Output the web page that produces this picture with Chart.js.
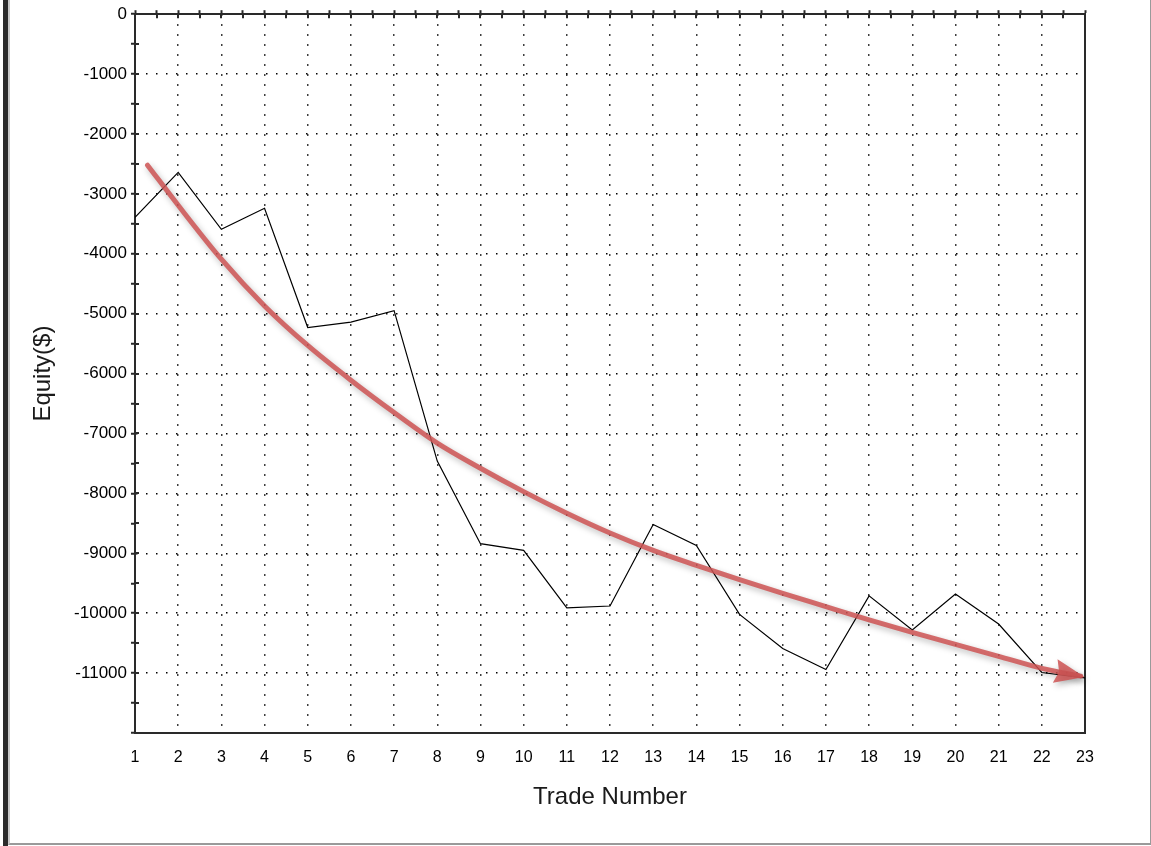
<!DOCTYPE html>
<html>
<head>
<meta charset="utf-8">
<title>Equity curve</title>
<script src="https://cdn.jsdelivr.net/npm/chart.js@4.4.1/dist/chart.umd.min.js"></script>
<style>
  html, body { margin: 0; padding: 0; background: #fff; overflow: hidden; }
  body { width: 1151px; height: 846px; position: relative; }
  .edge { position: absolute; left: 3px; top: 0; width: 5px; height: 846px; background: #2b2b2b; }
  .pane {
    position: absolute; left: 8px; top: 0; width: 1143px; height: 845px; box-sizing: border-box;
    border-left: 2px solid #c8c8c8; border-bottom: 2px solid #9a9a9a; border-right: 1px solid #9a9a9a;
  }
  #wrap { position: absolute; left: 0; top: 0; width: 1151px; height: 846px; }
</style>
</head>
<body>
<div class="edge"></div>
<div class="pane"></div>
<div id="wrap"><canvas id="equityChart"></canvas></div>
<script>
// Trade numbers and equity after each trade
const trades = [1, 2, 3, 4, 5, 6, 7, 8, 9, 10, 11, 12, 13, 14, 15, 16, 17, 18, 19, 20, 21, 22, 23];
const equity = [-3390, -2640, -3590, -3240, -5230, -5140, -4950, -7460, -8840, -8950, -9910, -9880,
  -8520, -8870, -10020, -10590, -10940, -9710, -10280, -9680, -10180, -10990, -11080];

// Hand-drawn trend arrow
const trendX = [1.29, 2, 3, 4, 5, 6, 7, 8, 9, 10, 11, 12, 13, 14, 15, 16, 17, 18, 19, 20, 21, 22, 22.9];
const trendY = [-2520, -3190, -4090, -4870, -5530, -6110, -6650, -7160, -7580, -7970, -8330, -8660,
  -8950, -9200, -9440, -9670, -9890, -10110, -10320, -10520, -10720, -10920, -11050];

const yTicksMin = -12000;
const yTicksMax = 0;

const FONT = "'Liberation Sans', Arial, sans-serif";
const AXIS = '#2a2a2a';
const ARROW = 'rgba(206, 84, 84, 0.85)';

// shadow under the trend arrow
const arrowShadow = {
  id: 'arrowShadow',
  beforeDatasetDraw(chart, args) {
    if (args.index !== 0) return;
    const ctx = chart.ctx;
    ctx.save();
    ctx.shadowColor = 'rgba(0,0,0,0.3)';
    ctx.shadowBlur = 6;
    ctx.shadowOffsetX = 2;
    ctx.shadowOffsetY = 3;
  },
  afterDatasetDraw(chart, args) {
    if (args.index !== 0) return;
    chart.ctx.restore();
  }
};

// arrow head at the end of the trend line
const arrowHead = {
  id: 'arrowHead',
  afterDatasetsDraw(chart) {
    const pts = chart.getDatasetMeta(0).data;
    const tip = pts[pts.length - 1];
    const prev = pts[pts.length - 2];
    const fx = tip.cp1x !== undefined ? tip.cp1x : prev.x;
    const fy = tip.cp1y !== undefined ? tip.cp1y : prev.y;
    const ang = Math.atan2(tip.y - fy, tip.x - fx);
    const ctx = chart.ctx;
    const len = 30, half = 12;
    const tx = tip.x + 4 * Math.cos(ang), ty = tip.y + 4 * Math.sin(ang);
    const bx = tx - len * Math.cos(ang), by = ty - len * Math.sin(ang);
    ctx.save();
    ctx.shadowColor = 'rgba(0,0,0,0.3)';
    ctx.shadowBlur = 6;
    ctx.shadowOffsetX = 2;
    ctx.shadowOffsetY = 3;
    ctx.fillStyle = ARROW;
    ctx.beginPath();
    ctx.moveTo(tx, ty);
    ctx.lineTo(bx + half * Math.sin(ang), by - half * Math.cos(ang));
    ctx.lineTo(bx + 4 * Math.cos(ang), by + 4 * Math.sin(ang));
    ctx.lineTo(bx - half * Math.sin(ang), by + half * Math.cos(ang));
    ctx.closePath();
    ctx.fill();
    ctx.restore();
  }
};

// tick marks that cross the left and top axis lines
const crossTicks = {
  id: 'crossTicks',
  afterDraw(chart) {
    const ctx = chart.ctx;
    const area = chart.chartArea;
    ctx.save();
    ctx.strokeStyle = AXIS;
    ctx.lineWidth = 2;
    ctx.beginPath();
    chart.scales.y.ticks.forEach(t => {
      const py = Math.round(chart.scales.y.getPixelForValue(t.value));
      ctx.moveTo(area.left, py);
      ctx.lineTo(area.left + 4, py);
    });
    chart.scales.x2.ticks.forEach(t => {
      const px = Math.round(chart.scales.x2.getPixelForValue(t.value));
      ctx.moveTo(px, area.top);
      ctx.lineTo(px, area.top + 4);
    });
    ctx.stroke();
    ctx.restore();
  }
};

const dotted = [1.5, 8.5];

new Chart(document.getElementById('equityChart'), {
  type: 'line',
  data: {
    datasets: [
      {
        label: 'Trend',
        data: trendX.map((x, i) => ({ x: x, y: trendY[i] })),
        borderColor: ARROW,
        borderWidth: 5,
        borderCapStyle: 'round',
        cubicInterpolationMode: 'monotone',
        pointRadius: 0,
        fill: false
      },
      {
        label: 'Equity',
        data: trades.map((t, i) => ({ x: t, y: equity[i] })),
        borderColor: '#000',
        borderWidth: 1.2,
        tension: 0,
        pointRadius: 0,
        fill: false
      }
    ]
  },
  options: {
    responsive: true,
    maintainAspectRatio: false,
    animation: false,
    events: [],
    layout: { padding: 0 },
    plugins: {
      legend: { display: false },
      tooltip: { enabled: false }
    },
    scales: {
      x: {
        type: 'linear',
        position: 'bottom',
        min: 1,
        max: 23,
        afterFit: s => { s.height = 113; },
        ticks: {
          stepSize: 1,
          autoSkip: false,
          maxRotation: 0,
          padding: 15,
          color: '#000',
          font: { family: FONT, size: 16 }
        },
        grid: { color: '#000', lineWidth: 1.5, drawTicks: false },
        border: { color: AXIS, width: 2, dash: dotted },
        title: {
          display: true,
          text: 'Trade Number',
          color: '#1a1a1a',
          font: { family: FONT, size: 24 },
          padding: { top: 0, bottom: 34 }
        }
      },
      x2: {
        type: 'linear',
        position: 'top',
        min: 1,
        max: 23,
        afterFit: s => { s.height = 13; },
        ticks: { stepSize: 0.5, display: false },
        grid: { drawOnChartArea: false, drawTicks: true, tickLength: 4, tickColor: AXIS, tickWidth: 2 },
        border: { color: AXIS, width: 2 }
      },
      y: {
        type: 'linear',
        position: 'left',
        min: yTicksMin,
        max: yTicksMax,
        afterFit: s => { s.width = 135; },
        ticks: {
          stepSize: 500,
          autoSkip: false,
          padding: 4,
          color: '#000',
          font: { family: FONT, size: 17 },
          callback: v => (v % 1000 === 0 && v !== yTicksMin ? String(v) : '')
        },
        grid: {
          color: c => (c.tick && c.tick.value % 1000 === 0 ? '#000' : 'rgba(0,0,0,0)'),
          lineWidth: 1.5,
          drawTicks: true,
          tickLength: 4,
          tickColor: AXIS,
          tickWidth: 2
        },
        border: { color: AXIS, width: 2, dash: dotted },
        title: {
          display: true,
          text: 'Equity($)',
          color: '#1a1a1a',
          font: { family: FONT, size: 24 },
          padding: { top: 29, bottom: 0 }
        }
      },
      y2: {
        type: 'linear',
        position: 'right',
        min: yTicksMin,
        max: yTicksMax,
        afterFit: s => { s.width = 66; },
        ticks: { display: false },
        grid: { drawOnChartArea: false, drawTicks: false },
        border: { color: AXIS, width: 2 }
      }
    }
  },
  plugins: [arrowShadow, arrowHead, crossTicks]
});
</script>
</body>
</html>
